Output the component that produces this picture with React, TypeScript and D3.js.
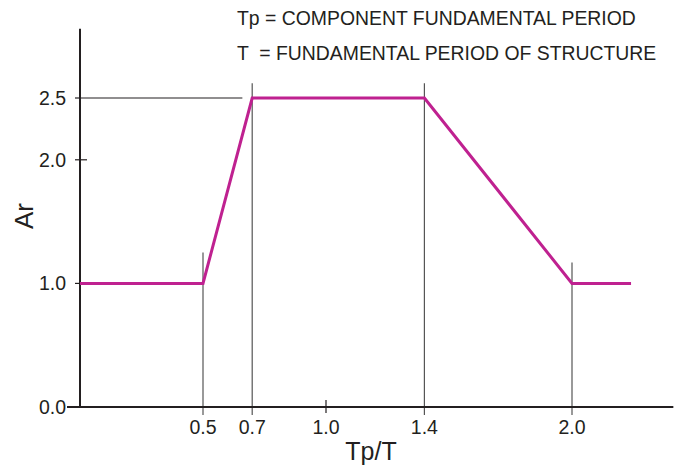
import React from "react";
import * as d3 from "d3";

// curve of Ar against Tp/T
const ratio = [0, 0.5, 0.7, 1.4, 2.0, 2.24];
const amp = [1.0, 1.0, 2.5, 2.5, 1.0, 1.0];

const xTicks = [0.5, 0.7, 1.0, 1.4, 2.0];
const yTicks = [0.0, 1.0, 2.0, 2.5];

// thin drop lines from the corners (x, top value)
const dropX = [0.5, 0.7, 1.4, 2.0];
const dropTop = [1.25, 2.62, 2.62, 1.17];

const notes = [
  "Tp = COMPONENT FUNDAMENTAL PERIOD",
  "T  = FUNDAMENTAL PERIOD OF STRUCTURE",
];

const W = 678;
const H = 466;
const font = "'Liberation Sans', Arial, sans-serif";
const ink = "#231f20";

const App: React.FC = () => {
  const x = d3.scaleLinear().domain([0, 2.4]).range([80, 670.4]);
  const y = d3.scaleLinear().domain([0, 2.5]).range([407, 98]);

  const line = d3
    .line<number>()
    .x((d, i) => x(ratio[i]))
    .y((d) => y(d));

  const x0 = x(0);
  const y0 = y(0);

  return (
    <svg
      width={W}
      height={H}
      style={{ position: "absolute", left: 0, top: 0, background: "#fff" }}
      fontFamily={font}
    >
      {/* notes */}
      {notes.map((t, i) => (
        <text key={i} x={237} y={25 + i * 35} fontSize={19.4} fill={ink} style={{ whiteSpace: "pre" }}>
          {t}
        </text>
      ))}

      {/* horizontal guide at 2.5 */}
      <line x1={x0} x2={x(0.66)} y1={y(2.5)} y2={y(2.5)} stroke={ink} strokeWidth={1.2} />

      {/* drop lines */}
      {dropX.map((v, i) => (
        <line
          key={i}
          x1={x(v)}
          x2={x(v)}
          y1={y(dropTop[i])}
          y2={y0 + 8}
          stroke="#555"
          strokeWidth={1.2}
        />
      ))}

      {/* y axis */}
      <line x1={x0} x2={x0} y1={y(3.06)} y2={y0} stroke={ink} strokeWidth={2} />
      {yTicks.map((t) => (
        <g key={t}>
          <line
            x1={x0 - (t === 0 ? 13 : 5)}
            x2={t === 2 ? x0 + 7 : x0}
            y1={y(t)}
            y2={y(t)}
            stroke={ink}
            strokeWidth={1.2}
          />
          <text x={x0 - 14} y={y(t)} dy="0.36em" textAnchor="end" fontSize={19.5} fill={ink}>
            {t.toFixed(1)}
          </text>
        </g>
      ))}

      {/* x axis */}
      <line x1={x0 - 13} x2={x(2.412)} y1={y0} y2={y0} stroke={ink} strokeWidth={2} />
      <line x1={x(1.0)} x2={x(1.0)} y1={y0 - 7} y2={y0 + 6} stroke={ink} strokeWidth={1.2} />
      {xTicks.map((t) => (
        <text key={t} x={x(t)} y={y0 + 27} textAnchor="middle" fontSize={19.5} fill={ink}>
          {t.toFixed(1)}
        </text>
      ))}

      {/* curve */}
      <path d={line(amp) || ""} fill="none" stroke="#bf2190" strokeWidth={3} strokeLinejoin="miter" />

      {/* axis titles */}
      <text x={371} y={460} textAnchor="middle" fontSize={25} fill={ink}>
        Tp/T
      </text>
      <text
        transform={`translate(33,216) rotate(-90)`}
        textAnchor="middle"
        fontSize={26}
        fill={ink}
      >
        Ar
      </text>
    </svg>
  );
};

export default App;
